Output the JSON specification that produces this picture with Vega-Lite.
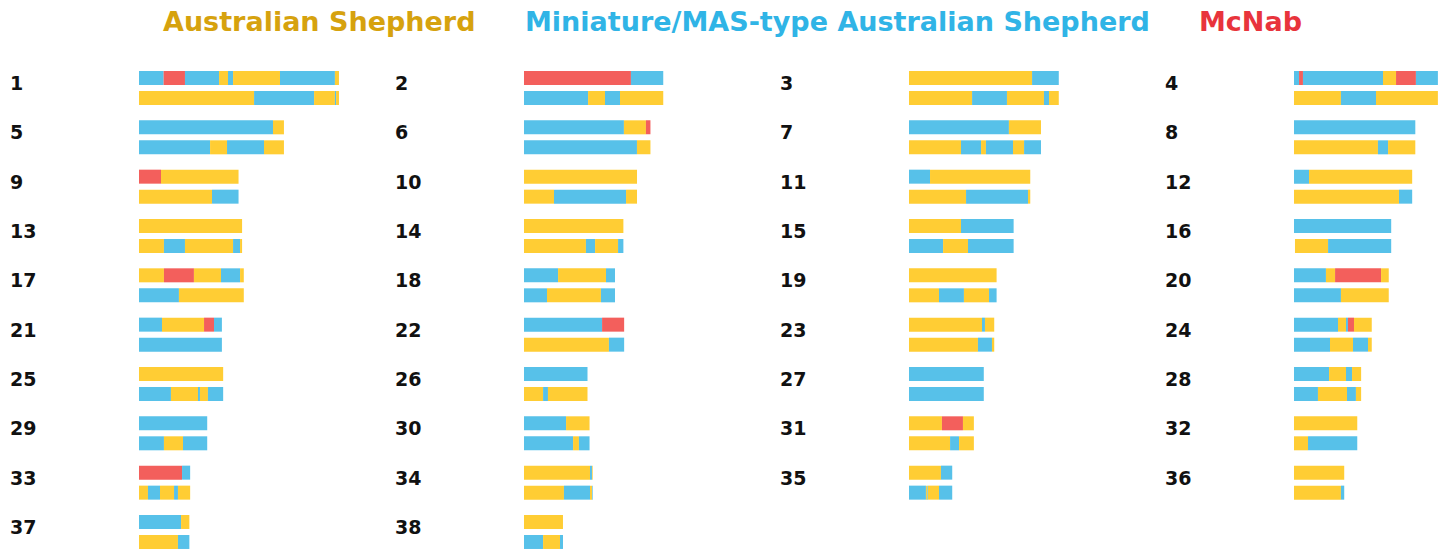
{
"$schema": "https://vega.github.io/schema/vega-lite/v6.json",
"padding": {"left": 10, "top": 9, "right": 0, "bottom": 0},
"bounds": "flush",
"config": {"view": {"stroke": null}, "header": {"labels": false, "title": null, "labelPadding": 0, "titlePadding": 0, "labelFontSize": 0, "labelColor": "transparent", "labelExpr": "''"}},
"data": {"values": [
{"chr":1,"hap":1,"start":0,"end":15.1,"anc":"M"},{"chr":1,"hap":1,"start":15.1,"end":28.2,"anc":"N"},{"chr":1,"hap":1,"start":28.2,"end":49.1,"anc":"M"},{"chr":1,"hap":1,"start":49.1,"end":54.6,"anc":"A"},{"chr":1,"hap":1,"start":54.6,"end":57.7,"anc":"M"},{"chr":1,"hap":1,"start":57.7,"end":86.5,"anc":"A"},{"chr":1,"hap":1,"start":86.5,"end":120.2,"anc":"M"},{"chr":1,"hap":1,"start":120.2,"end":122.68,"anc":"A"},
{"chr":1,"hap":2,"start":0,"end":70.6,"anc":"A"},{"chr":1,"hap":2,"start":70.6,"end":107.4,"anc":"M"},{"chr":1,"hap":2,"start":107.4,"end":120.2,"anc":"A"},{"chr":1,"hap":2,"start":120.2,"end":120.9,"anc":"M"},{"chr":1,"hap":2,"start":120.9,"end":122.68,"anc":"A"},
{"chr":2,"hap":1,"start":0,"end":65.6,"anc":"N"},{"chr":2,"hap":1,"start":65.6,"end":85.43,"anc":"M"},
{"chr":2,"hap":2,"start":0,"end":39.3,"anc":"M"},{"chr":2,"hap":2,"start":39.3,"end":49.7,"anc":"A"},{"chr":2,"hap":2,"start":49.7,"end":58.9,"anc":"M"},{"chr":2,"hap":2,"start":58.9,"end":85.43,"anc":"A"},
{"chr":3,"hap":1,"start":0,"end":75.5,"anc":"A"},{"chr":3,"hap":1,"start":75.5,"end":91.89,"anc":"M"},
{"chr":3,"hap":2,"start":0,"end":38.7,"anc":"A"},{"chr":3,"hap":2,"start":38.7,"end":60.1,"anc":"M"},{"chr":3,"hap":2,"start":60.1,"end":82.8,"anc":"A"},{"chr":3,"hap":2,"start":82.8,"end":85.9,"anc":"M"},{"chr":3,"hap":2,"start":85.9,"end":91.89,"anc":"A"},
{"chr":4,"hap":1,"start":0,"end":3.1,"anc":"M"},{"chr":4,"hap":1,"start":3.1,"end":5.5,"anc":"N"},{"chr":4,"hap":1,"start":5.5,"end":54.6,"anc":"M"},{"chr":4,"hap":1,"start":54.6,"end":62.6,"anc":"A"},{"chr":4,"hap":1,"start":62.6,"end":74.8,"anc":"N"},{"chr":4,"hap":1,"start":74.8,"end":88.28,"anc":"M"},
{"chr":4,"hap":2,"start":0,"end":28.8,"anc":"A"},{"chr":4,"hap":2,"start":28.8,"end":50.3,"anc":"M"},{"chr":4,"hap":2,"start":50.3,"end":88.28,"anc":"A"},
{"chr":5,"hap":1,"start":0,"end":82.2,"anc":"M"},{"chr":5,"hap":1,"start":82.2,"end":88.92,"anc":"A"},
{"chr":5,"hap":2,"start":0,"end":43.6,"anc":"M"},{"chr":5,"hap":2,"start":43.6,"end":54.0,"anc":"A"},{"chr":5,"hap":2,"start":54.0,"end":76.7,"anc":"M"},{"chr":5,"hap":2,"start":76.7,"end":88.92,"anc":"A"},
{"chr":6,"hap":1,"start":0,"end":61.3,"anc":"M"},{"chr":6,"hap":1,"start":61.3,"end":74.8,"anc":"A"},{"chr":6,"hap":1,"start":74.8,"end":77.57,"anc":"N"},
{"chr":6,"hap":2,"start":0,"end":69.3,"anc":"M"},{"chr":6,"hap":2,"start":69.3,"end":77.57,"anc":"A"},
{"chr":7,"hap":1,"start":0,"end":61.3,"anc":"M"},{"chr":7,"hap":1,"start":61.3,"end":80.97,"anc":"A"},
{"chr":7,"hap":2,"start":0,"end":31.9,"anc":"A"},{"chr":7,"hap":2,"start":31.9,"end":44.2,"anc":"M"},{"chr":7,"hap":2,"start":44.2,"end":47.2,"anc":"A"},{"chr":7,"hap":2,"start":47.2,"end":63.8,"anc":"M"},{"chr":7,"hap":2,"start":63.8,"end":70.6,"anc":"A"},{"chr":7,"hap":2,"start":70.6,"end":80.97,"anc":"M"},
{"chr":8,"hap":1,"start":0,"end":74.42,"anc":"M"},
{"chr":8,"hap":2,"start":0,"end":51.5,"anc":"A"},{"chr":8,"hap":2,"start":51.5,"end":57.7,"anc":"M"},{"chr":8,"hap":2,"start":57.7,"end":74.42,"anc":"A"},
{"chr":9,"hap":1,"start":0,"end":13.5,"anc":"N"},{"chr":9,"hap":1,"start":13.5,"end":61.07,"anc":"A"},
{"chr":9,"hap":2,"start":0,"end":44.8,"anc":"A"},{"chr":9,"hap":2,"start":44.8,"end":61.07,"anc":"M"},
{"chr":10,"hap":1,"start":0,"end":69.33,"anc":"A"},
{"chr":10,"hap":2,"start":0,"end":18.4,"anc":"A"},{"chr":10,"hap":2,"start":18.4,"end":62.6,"anc":"M"},{"chr":10,"hap":2,"start":62.6,"end":69.33,"anc":"A"},
{"chr":11,"hap":1,"start":0,"end":12.9,"anc":"M"},{"chr":11,"hap":1,"start":12.9,"end":74.39,"anc":"A"},
{"chr":11,"hap":2,"start":0,"end":35.0,"anc":"A"},{"chr":11,"hap":2,"start":35.0,"end":73.0,"anc":"M"},{"chr":11,"hap":2,"start":73.0,"end":74.39,"anc":"A"},
{"chr":12,"hap":1,"start":0,"end":9.2,"anc":"M"},{"chr":12,"hap":1,"start":9.2,"end":72.5,"anc":"A"},
{"chr":12,"hap":2,"start":0,"end":64.4,"anc":"A"},{"chr":12,"hap":2,"start":64.4,"end":72.5,"anc":"M"},
{"chr":13,"hap":1,"start":0,"end":63.24,"anc":"A"},
{"chr":13,"hap":2,"start":0,"end":15.3,"anc":"A"},{"chr":13,"hap":2,"start":15.3,"end":28.2,"anc":"M"},{"chr":13,"hap":2,"start":28.2,"end":57.7,"anc":"A"},{"chr":13,"hap":2,"start":57.7,"end":62.0,"anc":"M"},{"chr":13,"hap":2,"start":62.0,"end":63.24,"anc":"A"},
{"chr":14,"hap":1,"start":0,"end":60.97,"anc":"A"},
{"chr":14,"hap":2,"start":0,"end":38.0,"anc":"A"},{"chr":14,"hap":2,"start":38.0,"end":43.6,"anc":"M"},{"chr":14,"hap":2,"start":43.6,"end":57.7,"anc":"A"},{"chr":14,"hap":2,"start":57.7,"end":60.97,"anc":"M"},
{"chr":15,"hap":1,"start":0,"end":31.9,"anc":"A"},{"chr":15,"hap":1,"start":31.9,"end":64.19,"anc":"M"},
{"chr":15,"hap":2,"start":0,"end":20.9,"anc":"M"},{"chr":15,"hap":2,"start":20.9,"end":36.2,"anc":"A"},{"chr":15,"hap":2,"start":36.2,"end":64.19,"anc":"M"},
{"chr":16,"hap":1,"start":0,"end":59.63,"anc":"M"},
{"chr":16,"hap":2,"start":0.6,"end":20.9,"anc":"A"},{"chr":16,"hap":2,"start":20.9,"end":59.63,"anc":"M"},
{"chr":17,"hap":1,"start":0,"end":15.3,"anc":"A"},{"chr":17,"hap":1,"start":15.3,"end":33.7,"anc":"N"},{"chr":17,"hap":1,"start":33.7,"end":50.3,"anc":"A"},{"chr":17,"hap":1,"start":50.3,"end":62.0,"anc":"M"},{"chr":17,"hap":1,"start":62.0,"end":64.29,"anc":"A"},
{"chr":17,"hap":2,"start":0,"end":24.5,"anc":"M"},{"chr":17,"hap":2,"start":24.5,"end":64.29,"anc":"A"},
{"chr":18,"hap":1,"start":0,"end":20.9,"anc":"M"},{"chr":18,"hap":1,"start":20.9,"end":50.3,"anc":"A"},{"chr":18,"hap":1,"start":50.3,"end":55.84,"anc":"M"},
{"chr":18,"hap":2,"start":0,"end":14.1,"anc":"M"},{"chr":18,"hap":2,"start":14.1,"end":47.2,"anc":"A"},{"chr":18,"hap":2,"start":47.2,"end":55.84,"anc":"M"},
{"chr":19,"hap":1,"start":0,"end":53.74,"anc":"A"},
{"chr":19,"hap":2,"start":0,"end":18.4,"anc":"A"},{"chr":19,"hap":2,"start":18.4,"end":33.7,"anc":"M"},{"chr":19,"hap":2,"start":33.7,"end":49.1,"anc":"A"},{"chr":19,"hap":2,"start":49.1,"end":53.74,"anc":"M"},
{"chr":20,"hap":1,"start":0,"end":19.6,"anc":"M"},{"chr":20,"hap":1,"start":19.6,"end":25.2,"anc":"A"},{"chr":20,"hap":1,"start":25.2,"end":53.4,"anc":"N"},{"chr":20,"hap":1,"start":53.4,"end":58.13,"anc":"A"},
{"chr":20,"hap":2,"start":0,"end":28.8,"anc":"M"},{"chr":20,"hap":2,"start":28.8,"end":58.13,"anc":"A"},
{"chr":21,"hap":1,"start":0,"end":14.1,"anc":"M"},{"chr":21,"hap":1,"start":14.1,"end":39.9,"anc":"A"},{"chr":21,"hap":1,"start":39.9,"end":46.0,"anc":"N"},{"chr":21,"hap":1,"start":46.0,"end":50.86,"anc":"M"},
{"chr":21,"hap":2,"start":0,"end":50.86,"anc":"M"},
{"chr":22,"hap":1,"start":0,"end":47.9,"anc":"M"},{"chr":22,"hap":1,"start":47.9,"end":61.44,"anc":"N"},
{"chr":22,"hap":2,"start":0,"end":52.1,"anc":"A"},{"chr":22,"hap":2,"start":52.1,"end":61.44,"anc":"M"},
{"chr":23,"hap":1,"start":0,"end":44.8,"anc":"A"},{"chr":23,"hap":1,"start":44.8,"end":46.6,"anc":"M"},{"chr":23,"hap":1,"start":46.6,"end":52.29,"anc":"A"},
{"chr":23,"hap":2,"start":0,"end":42.3,"anc":"A"},{"chr":23,"hap":2,"start":42.3,"end":50.9,"anc":"M"},{"chr":23,"hap":2,"start":50.9,"end":52.29,"anc":"A"},
{"chr":24,"hap":1,"start":0,"end":27.0,"anc":"M"},{"chr":24,"hap":1,"start":27.0,"end":31.9,"anc":"A"},{"chr":24,"hap":1,"start":31.9,"end":33.1,"anc":"M"},{"chr":24,"hap":1,"start":33.1,"end":36.8,"anc":"N"},{"chr":24,"hap":1,"start":36.8,"end":47.7,"anc":"A"},
{"chr":24,"hap":2,"start":0,"end":22.1,"anc":"M"},{"chr":24,"hap":2,"start":22.1,"end":36.2,"anc":"A"},{"chr":24,"hap":2,"start":36.2,"end":45.4,"anc":"M"},{"chr":24,"hap":2,"start":45.4,"end":47.7,"anc":"A"},
{"chr":25,"hap":1,"start":0,"end":51.63,"anc":"A"},
{"chr":25,"hap":2,"start":0,"end":19.6,"anc":"M"},{"chr":25,"hap":2,"start":19.6,"end":36.2,"anc":"A"},{"chr":25,"hap":2,"start":36.2,"end":37.4,"anc":"M"},{"chr":25,"hap":2,"start":37.4,"end":42.3,"anc":"A"},{"chr":25,"hap":2,"start":42.3,"end":51.63,"anc":"M"},
{"chr":26,"hap":1,"start":0,"end":38.96,"anc":"M"},
{"chr":26,"hap":2,"start":0,"end":11.7,"anc":"A"},{"chr":26,"hap":2,"start":11.7,"end":14.7,"anc":"M"},{"chr":26,"hap":2,"start":14.7,"end":38.96,"anc":"A"},
{"chr":27,"hap":1,"start":0,"end":45.88,"anc":"M"},
{"chr":27,"hap":2,"start":0,"end":45.88,"anc":"M"},
{"chr":28,"hap":1,"start":0,"end":21.5,"anc":"M"},{"chr":28,"hap":1,"start":21.5,"end":31.9,"anc":"A"},{"chr":28,"hap":1,"start":31.9,"end":35.6,"anc":"M"},{"chr":28,"hap":1,"start":35.6,"end":41.18,"anc":"A"},
{"chr":28,"hap":2,"start":0,"end":14.7,"anc":"M"},{"chr":28,"hap":2,"start":14.7,"end":32.5,"anc":"A"},{"chr":28,"hap":2,"start":32.5,"end":38.0,"anc":"M"},{"chr":28,"hap":2,"start":38.0,"end":41.18,"anc":"A"},
{"chr":29,"hap":1,"start":0,"end":41.85,"anc":"M"},
{"chr":29,"hap":2,"start":0,"end":15.3,"anc":"M"},{"chr":29,"hap":2,"start":15.3,"end":27.0,"anc":"A"},{"chr":29,"hap":2,"start":27.0,"end":41.85,"anc":"M"},
{"chr":30,"hap":1,"start":0,"end":25.8,"anc":"M"},{"chr":30,"hap":1,"start":25.8,"end":40.21,"anc":"A"},
{"chr":30,"hap":2,"start":0,"end":30.1,"anc":"M"},{"chr":30,"hap":2,"start":30.1,"end":33.7,"anc":"A"},{"chr":30,"hap":2,"start":33.7,"end":40.21,"anc":"M"},
{"chr":31,"hap":1,"start":0,"end":20.2,"anc":"A"},{"chr":31,"hap":1,"start":20.2,"end":33.1,"anc":"N"},{"chr":31,"hap":1,"start":33.1,"end":39.8,"anc":"A"},
{"chr":31,"hap":2,"start":0,"end":25.2,"anc":"A"},{"chr":31,"hap":2,"start":25.2,"end":30.7,"anc":"M"},{"chr":31,"hap":2,"start":30.7,"end":39.8,"anc":"A"},
{"chr":32,"hap":1,"start":0,"end":38.81,"anc":"A"},
{"chr":32,"hap":2,"start":0,"end":8.6,"anc":"A"},{"chr":32,"hap":2,"start":8.6,"end":38.81,"anc":"M"},
{"chr":33,"hap":1,"start":0,"end":26.4,"anc":"N"},{"chr":33,"hap":1,"start":26.4,"end":31.38,"anc":"M"},
{"chr":33,"hap":2,"start":0,"end":5.5,"anc":"A"},{"chr":33,"hap":2,"start":5.5,"end":12.9,"anc":"M"},{"chr":33,"hap":2,"start":12.9,"end":21.5,"anc":"A"},{"chr":33,"hap":2,"start":21.5,"end":23.9,"anc":"M"},{"chr":33,"hap":2,"start":23.9,"end":31.38,"anc":"A"},
{"chr":34,"hap":1,"start":0,"end":40.5,"anc":"A"},{"chr":34,"hap":1,"start":40.5,"end":41.7,"anc":"M"},{"chr":34,"hap":1,"start":41.7,"end":42.12,"anc":"A"},
{"chr":34,"hap":2,"start":0,"end":24.5,"anc":"A"},{"chr":34,"hap":2,"start":24.5,"end":40.5,"anc":"M"},{"chr":34,"hap":2,"start":40.5,"end":41.7,"anc":"A"},{"chr":34,"hap":2,"start":41.7,"end":42.12,"anc":"M"},
{"chr":35,"hap":1,"start":0,"end":19.6,"anc":"A"},{"chr":35,"hap":1,"start":19.6,"end":26.52,"anc":"M"},
{"chr":35,"hap":2,"start":0,"end":10.4,"anc":"M"},{"chr":35,"hap":2,"start":10.4,"end":11.0,"anc":"A"},{"chr":35,"hap":2,"start":11.0,"end":11.5,"anc":"M"},{"chr":35,"hap":2,"start":11.5,"end":18.4,"anc":"A"},{"chr":35,"hap":2,"start":18.4,"end":26.52,"anc":"M"},
{"chr":36,"hap":1,"start":0,"end":30.81,"anc":"A"},
{"chr":36,"hap":2,"start":0,"end":28.8,"anc":"A"},{"chr":36,"hap":2,"start":28.8,"end":30.81,"anc":"M"},
{"chr":37,"hap":1,"start":0,"end":25.8,"anc":"M"},{"chr":37,"hap":1,"start":25.8,"end":30.9,"anc":"A"},
{"chr":37,"hap":2,"start":0,"end":23.9,"anc":"A"},{"chr":37,"hap":2,"start":23.9,"end":30.9,"anc":"M"},
{"chr":38,"hap":1,"start":0,"end":23.91,"anc":"A"},
{"chr":38,"hap":2,"start":0,"end":11.7,"anc":"M"},{"chr":38,"hap":2,"start":11.7,"end":22.1,"anc":"A"},{"chr":38,"hap":2,"start":22.1,"end":23.91,"anc":"M"}
]},
"facet": {"field": "chr", "type": "ordinal", "title": null, "header": {"labels": false, "title": null, "labelPadding": 0, "titlePadding": 0, "labelFontSize": 0, "labelColor": "transparent", "labelExpr": "''"}},
"columns": 4,
"spacing": {"row": 15.33, "column": 110},
"spec": {
  "width": 275,
  "height": 34,
  "layer": [
    {
      "mark": {"type": "bar"},
      "encoding": {
        "x": {"field": "start", "type": "quantitative", "scale": {"domain": [-79.14, 89.57], "nice": false, "zero": false}, "axis": null},
        "x2": {"field": "end"},
        "y": {"field": "hap", "type": "ordinal", "scale": {"paddingInner": 0.3, "paddingOuter": 0}, "axis": null},
        "color": {
          "field": "anc", "type": "nominal",
          "scale": {"domain": ["A", "M", "N"], "range": ["#FFCD34", "#57C1E9", "#F35F5C"]},
          "legend": {
            "orient": "none", "legendX": 126, "legendY": -62, "direction": "horizontal",
            "title": null, "padding": 0, "symbolSize": 0, "symbolStrokeWidth": 0, "symbolOpacity": 0,
            "labelOffset": 0, "columnPadding": 22,
            "labelFont": "DejaVu Sans", "labelFontSize": 27, "labelFontWeight": "bold", "labelLimit": 0,
            "labelColor": {"expr": "datum.value == 'A' ? '#D6A20E' : datum.value == 'M' ? '#30B4E6' : '#E8343C'"},
            "labelExpr": "datum.value == 'A' ? 'Australian Shepherd' : datum.value == 'M' ? 'Miniature/MAS-type Australian Shepherd' : 'McNab'"
          }
        }
      }
    },
    {
      "transform": [{"filter": "datum.hap == 1 && datum.start == 0"}],
      "mark": {"type": "text", "align": "left", "baseline": "alphabetic", "dy": 12, "font": "DejaVu Sans", "fontSize": 19, "fontWeight": "bold", "color": "#111111"},
      "encoding": {
        "x": {"datum": -79.14, "type": "quantitative"},
        "y": {"field": "hap", "type": "ordinal"},
        "text": {"field": "chr", "type": "nominal"}
      }
    }
  ]
}
}
